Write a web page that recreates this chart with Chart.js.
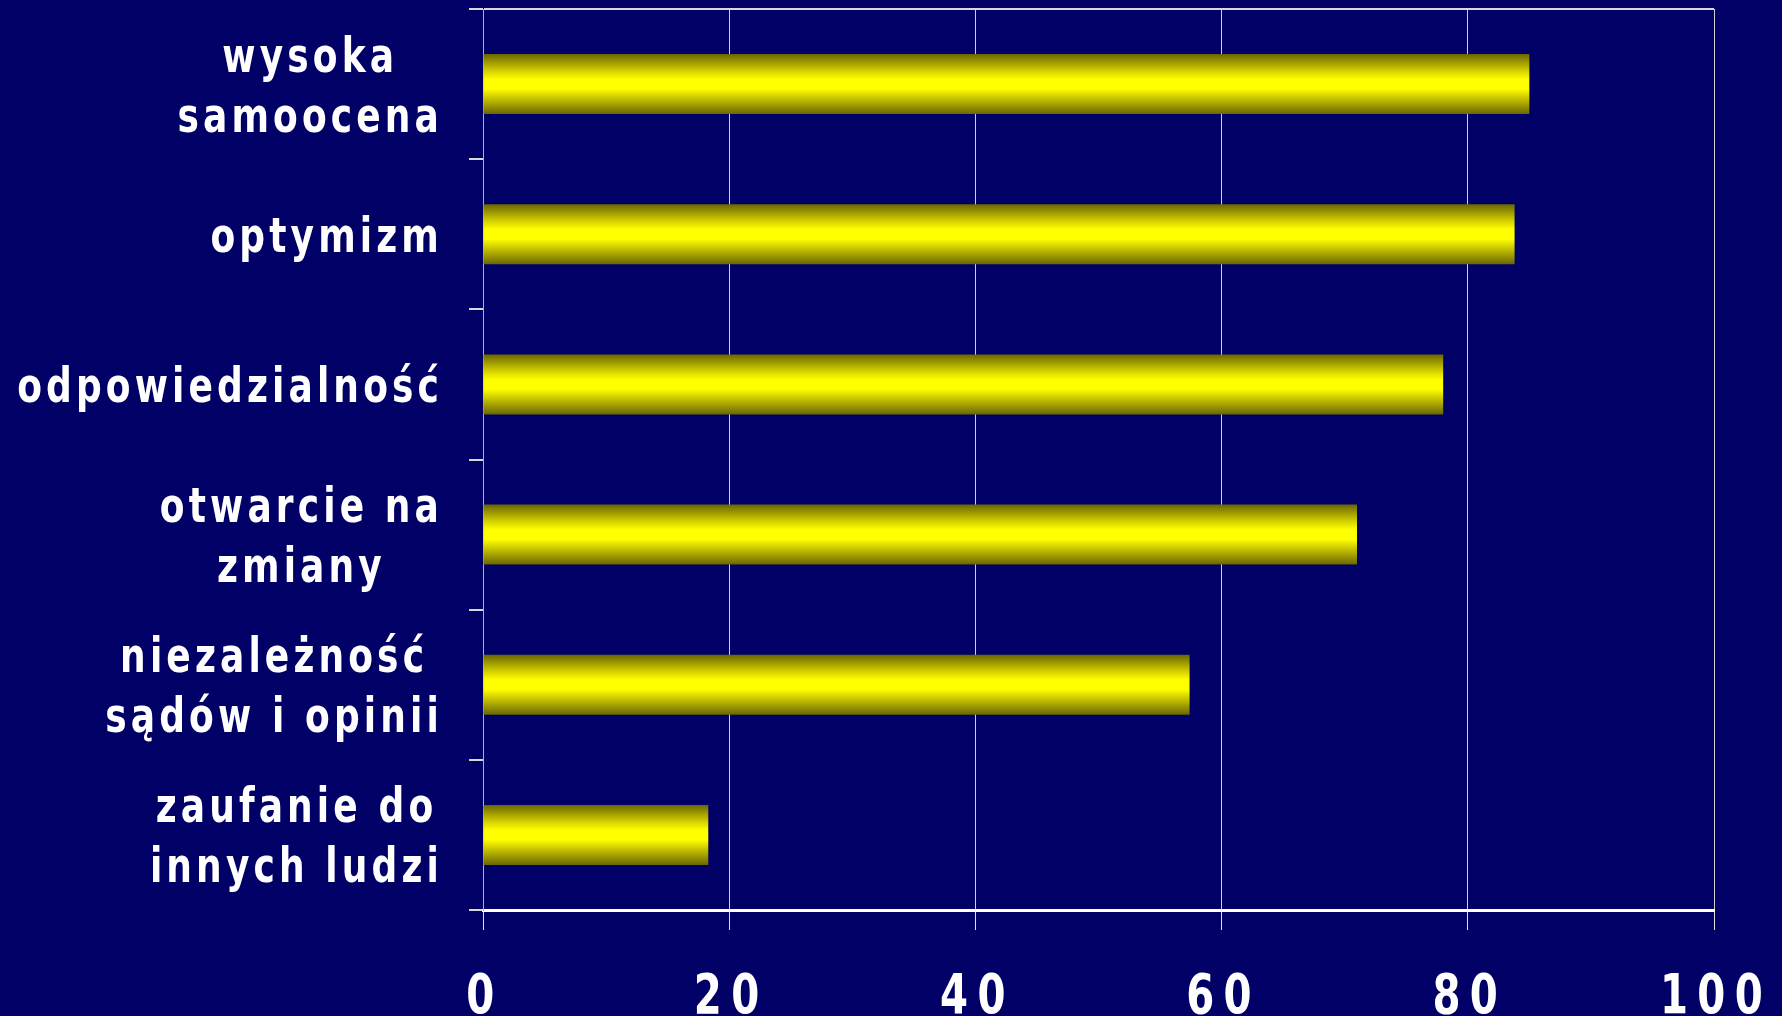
<!DOCTYPE html>
<html>
<head>
<meta charset="utf-8">
<script src="https://cdn.jsdelivr.net/npm/chart.js@4.4.1/dist/chart.umd.min.js"></script>
<style>
  html, body { margin: 0; padding: 0; background: #000066; }
  #wrap { width: 1782px; height: 1016px; position: relative; }
</style>
</head>
<body>
<div id="wrap"><canvas id="grafica"></canvas></div>
<script>
// datos
const categorias = [
  ['wysoka', 'samoocena'],
  ['optymizm'],
  ['odpowiedzialność'],
  ['otwarcie na', 'zmiany'],
  ['niezależność', 'sądów i opinii'],
  ['zaufanie do', 'innych ludzi']
];
const valores = [85, 83.8, 78, 71, 57.4, 18.3];
const ticksX = [0, 20, 40, 60, 80, 100];

const fuente = "'DejaVu Sans', sans-serif";

// degradado vertical de cada barra
function colorBarra(ctx) {
  const chart = ctx.chart;
  const yScale = chart.scales.y;
  if (!chart.chartArea || !yScale) return '#ffff00';
  const centro = yScale.getPixelForValue(ctx.dataIndex);
  const medio = (chart.chartArea.height / categorias.length) * 0.4 / 2;
  const g = chart.ctx.createLinearGradient(0, centro - medio, 0, centro + medio);
  g.addColorStop(0, '#6a6600');
  g.addColorStop(0.3, '#dcd800');
  g.addColorStop(0.42, '#ffff00');
  g.addColorStop(0.58, '#ffff00');
  g.addColorStop(0.75, '#c4c000');
  g.addColorStop(1, '#6a6600');
  return g;
}

// textos de ambos ejes (letra estrecha y espaciada como en el original)
const textosEjes = {
  id: 'textosEjes',
  afterDraw(chart) {
    const ctx = chart.ctx;
    const yScale = chart.scales.y;
    const xScale = chart.scales.x;

    // eje y: lineas centradas entre si, bloque alineado a la derecha
    const escY = 0.75;
    ctx.save();
    ctx.font = 'bold 48px ' + fuente;
    ctx.letterSpacing = '5.5px';
    ctx.fillStyle = '#ffffff';
    ctx.textAlign = 'center';
    ctx.textBaseline = 'alphabetic';
    const derecha = 443;
    categorias.forEach((lineas, i) => {
      const y = yScale.getPixelForValue(i) + 17.5;
      const ancho = Math.max(...lineas.map(l => ctx.measureText(l).width)) * escY;
      const cx = derecha - ancho / 2;
      lineas.forEach((l, j) => {
        ctx.save();
        ctx.translate(cx, y + (j - (lineas.length - 1) / 2) * 60);
        ctx.scale(escY, 1);
        ctx.fillText(l, 0, 0);
        ctx.restore();
      });
    });
    ctx.restore();

    // eje x
    ctx.save();
    ctx.font = 'bold 56px ' + fuente;
    ctx.letterSpacing = '13px';
    ctx.fillStyle = '#ffffff';
    ctx.textAlign = 'center';
    ctx.textBaseline = 'alphabetic';
    ticksX.forEach(v => {
      ctx.save();
      ctx.translate(xScale.getPixelForValue(v) + 2, 1013);
      ctx.scale(0.72, 1);
      ctx.fillText(String(v), 0, 0);
      ctx.restore();
    });
    ctx.restore();
  }
};

new Chart(document.getElementById('grafica'), {
  type: 'bar',
  data: {
    labels: categorias,
    datasets: [{
      data: valores,
      backgroundColor: colorBarra,
      borderWidth: 0,
      barPercentage: 0.8,
      categoryPercentage: 0.5
    }]
  },
  options: {
    indexAxis: 'y',
    responsive: true,
    maintainAspectRatio: false,
    animation: false,
    devicePixelRatio: 1,
    layout: { padding: { top: 9, right: 68, left: 0, bottom: 0 } },
    plugins: { legend: { display: false }, tooltip: { enabled: false } },
    scales: {
      x: {
        min: 0,
        max: 100,
        afterBuildTicks: s => { s.ticks = ticksX.map(v => ({ value: v })); },
        afterFit: s => { s.height = 106; },
        grid: { color: '#d0d0d0', lineWidth: 1, tickLength: 20, tickColor: '#e0e0e0' },
        border: { display: true, color: '#ffffff', width: 3 },
        ticks: { display: false }
      },
      y: {
        afterFit: s => { s.width = 483; },
        grid: {
          offset: true,
          drawOnChartArea: true,
          color: c => c.index === 0 ? '#d8d8d8' : 'rgba(0,0,0,0)',
          tickColor: '#d8d8d8',
          tickLength: 14,
          lineWidth: 2
        },
        border: { display: true, color: '#b0b0b0', width: 1 },
        ticks: { display: false }
      }
    }
  },
  plugins: [textosEjes]
});
</script>
</body>
</html>
